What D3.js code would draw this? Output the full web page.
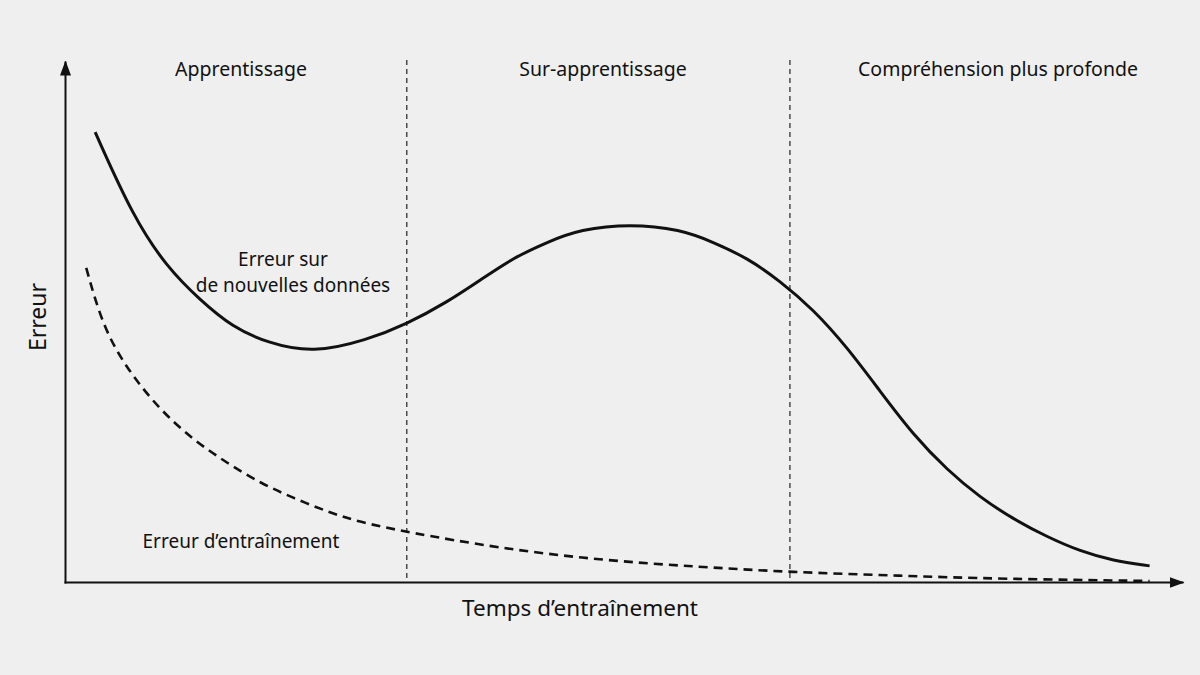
<!DOCTYPE html>
<html>
<head>
<meta charset="utf-8">
<script src="https://cdn.jsdelivr.net/npm/d3@7"></script>
<style>
  html, body { margin: 0; padding: 0; background: #efefef; }
  svg { display: block; font-family: "Noto Sans", "Open Sans", sans-serif; }
</style>
</head>
<body>
<div id="chart"></div>
<script>
// training time (0-100) vs error (0-100)
const testTime = [2.7, 6.1, 9.1, 12.1, 15.0, 18.1, 22.2, 27.0, 30.6, 34.2, 37.2, 40.1, 43.2, 46.1, 50.6,
    55.1, 58.0, 61.1, 64.0, 67.0, 70.0, 73.0, 75.9, 79.0, 81.9, 84.9, 87.9, 90.9, 93.8, 97.1];
const testError = [86.5, 70.2, 60.6, 54.2, 49.0, 46.0, 44.0, 46.5, 49.6, 53.8, 58.1, 62.3, 65.4, 67.8, 68.9,
    67.8, 65.4, 62.3, 57.9, 52.4, 45.2, 36.6, 28.4, 21.5, 16.3, 12.1, 8.7, 5.9, 4.1, 3.1];

const trainTime = [1.9, 3.4, 5.6, 8.5, 11.5, 14.5, 17.5, 20.4, 23.5, 26.4, 30.6, 38.9, 47.9, 56.8, 64.9, 74.8, 83.7, 97.1];
const trainError = [60.4, 49.0, 40.8, 33.1, 27.3, 22.9, 19.0, 16.2, 13.5, 11.5, 9.6, 6.5, 4.2, 2.9, 1.9, 1.2, 0.6, 0.2];

const phaseBounds = [30.6, 64.9];
const phaseNames = ["Apprentissage", "Sur-apprentissage", "Compréhension plus profonde"];

const width = 1200;
const height = 675;

const svg = d3.select("#chart")
    .append("svg")
    .attr("width", width)
    .attr("height", height);

const x = d3.scaleLinear().domain([0, 100]).range([65, 1182]);
const y = d3.scaleLinear().domain([0, 100]).range([582, 62]);

svg.append("defs").append("marker")
    .attr("id", "arrow")
    .attr("markerUnits", "userSpaceOnUse")
    .attr("viewBox", "0 -6 15 12")
    .attr("refX", 13)
    .attr("refY", 0)
    .attr("markerWidth", 15)
    .attr("markerHeight", 12)
    .attr("orient", "auto")
    .append("path")
    .attr("d", "M0,-5.5L15,0L0,5.5Z")
    .attr("fill", "#111");

// phase separators
svg.append("g").selectAll("line")
    .data(phaseBounds)
    .enter()
    .append("line")
    .attr("x1", d => x(d))
    .attr("x2", d => x(d))
    .attr("y1", 60)
    .attr("y2", y(0))
    .attr("stroke", "#222")
    .attr("stroke-width", 1.2)
    .attr("stroke-dasharray", "5,4");

// axes without ticks, arrow at the end
const xAxis = svg.append("g")
    .attr("transform", `translate(0,${y(0)})`)
    .call(d3.axisBottom(x).tickValues([]).tickSizeOuter(0));
const yAxis = svg.append("g")
    .attr("transform", `translate(${x(0)},0)`)
    .call(d3.axisLeft(y).tickValues([]).tickSizeOuter(0));
[xAxis, yAxis].forEach(a => a.select(".domain")
    .attr("stroke", "#111")
    .attr("stroke-width", 2)
    .attr("stroke-linecap", "square")
    .attr("marker-end", "url(#arrow)"));

const line = d3.line()
    .x(d => x(d[0]))
    .y(d => y(d[1]))
    .curve(d3.curveBasis);

svg.append("path")
    .datum(d3.zip(trainTime, trainError))
    .attr("d", line)
    .attr("fill", "none")
    .attr("stroke", "#111")
    .attr("stroke-width", 2.6)
    .attr("stroke-dasharray", "9,6");

svg.append("path")
    .datum(d3.zip(testTime, testError))
    .attr("d", line)
    .attr("fill", "none")
    .attr("stroke", "#111")
    .attr("stroke-width", 3);

// phase titles
const titleX = [241, 603, 998];
svg.append("g").selectAll("text")
    .data(phaseNames)
    .enter()
    .append("text")
    .attr("x", (d, i) => titleX[i])
    .attr("y", 76)
    .attr("text-anchor", "middle")
    .attr("font-size", 19.5)
    .attr("fill", "#111")
    .text(d => d);

// curve labels
const labels = [
    { text: "Erreur sur", x: 283, y: 266 },
    { text: "de nouvelles données", x: 293, y: 292 },
    { text: "Erreur d\u2019entraînement", x: 241, y: 548 }
];
svg.append("g").selectAll("text")
    .data(labels)
    .enter()
    .append("text")
    .attr("x", d => d.x)
    .attr("y", d => d.y)
    .attr("text-anchor", "middle")
    .attr("font-size", 19)
    .attr("fill", "#111")
    .text(d => d.text);

// axis titles
svg.append("text")
    .attr("x", 580)
    .attr("y", 616)
    .attr("text-anchor", "middle")
    .attr("font-size", 22.5)
    .attr("fill", "#111")
    .text("Temps d\u2019entraînement");

svg.append("text")
    .attr("transform", "translate(46,317) rotate(-90)")
    .attr("text-anchor", "middle")
    .attr("font-size", 23)
    .attr("fill", "#111")
    .text("Erreur");
</script>
</body>
</html>
